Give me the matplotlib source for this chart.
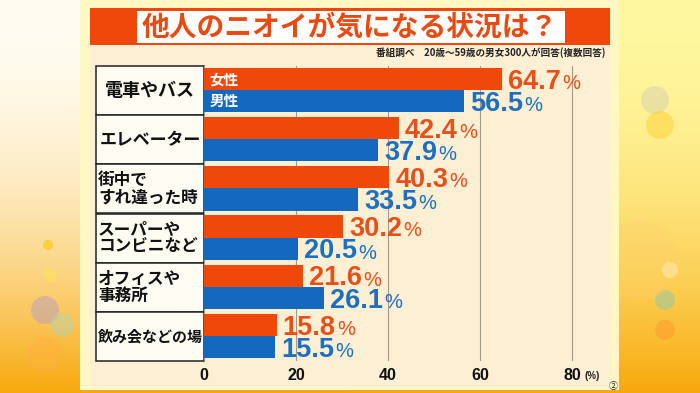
import numpy as np
import matplotlib
matplotlib.use("Agg")
import matplotlib.pyplot as plt
from matplotlib.patches import Rectangle, Circle
from matplotlib.transforms import ScaledTranslation

# ── data ────────────────────────────────────────────────────────────────
categories = ["電車やバス", "エレベーター", "街中で\nすれ違った時",
              "スーパーや\nコンビニなど", "オフィスや\n事務所", "飲み会などの場"]
female = [64.7, 42.4, 40.3, 30.2, 21.6, 15.8]
male   = [56.5, 37.9, 33.5, 20.5, 26.1, 15.5]
xticks = [0, 20, 40, 60, 80]
title = "他人のニオイが気になる状況は？"
subtitle = "番組調べ　20歳～59歳の男女300人が回答(複数回答)"

RED, BLUE = "#f0470a", "#1468be"
RED_TXT, BLUE_TXT = "#e8501a", "#1f6fc0"
JP = ["Noto Sans CJK JP", "DejaVu Sans"]
NUM = "Liberation Sans"

W, H = 700, 393
fig = plt.figure(figsize=(W / 100, H / 100), dpi=100)

def px_axes(x0, y0, x1, y1):
    # pixel box (from top-left) -> figure axes
    return fig.add_axes([x0 / W, 1 - y1 / H, (x1 - x0) / W, (y1 - y0) / H])

# --- background gradient + bokeh ---
bg = fig.add_axes([0, 0, 1, 1])
yy, xx = np.mgrid[0:H, 0:W]
top = np.where(xx[..., None] < 350,
               np.array([255, 253, 242]), np.array([255, 248, 160])).astype(float)
bot = np.array([248, 168, 10], float)
t = ((yy / H) ** 2.0)[..., None]
img = (top * (1 - t) + bot * t) / 255
bg.imshow(img, extent=(0, W, H, 0), aspect="auto")
for (cx, cy, r, c, a) in [(48, 245, 5, "#f7c800", 0.6), (50, 275, 7, "#ffe060", 0.7),
                          (45, 310, 14, "#b9a0c0", 0.5), (62, 325, 12, "#a8d8c0", 0.4),
                          (45, 355, 18, "#ffb040", 0.4), (655, 100, 14, "#d8d0b0", 0.5),
                          (660, 125, 14, "#ffd030", 0.5), (665, 300, 10, "#90c8b0", 0.5),
                          (670, 270, 8, "#fff0c0", 0.6), (665, 330, 10, "#ff9830", 0.5),
                          (640, 260, 40, "#ffd070", 0.25)]:
    bg.add_patch(Circle((cx, cy), r, color=c, alpha=a, lw=0))
bg.add_patch(Rectangle((80, 0), 539, 390, facecolor="#fff8c4", lw=0))
bg.add_patch(Rectangle((90, 45), 520, 342, facecolor="#fcefd3", lw=0))
bg.add_patch(Rectangle((90, 8), 520, 37, facecolor=RED, lw=0))
bg.add_patch(Rectangle((137, 11), 428, 32, facecolor="white", lw=0))
bg.text(350, 28, title, ha="center", va="center", fontsize=20, fontweight="bold",
        color="#e94a10", family=JP)
bg.text(606, 53, subtitle, ha="right", va="center", fontsize=6.9, fontweight="bold",
        color="#222222", family=JP)
bg.text(592, 376, "(%)", ha="center", va="center", fontsize=7, fontweight="bold",
        color="#222222", family=NUM)
bg.text(613, 386, "②", ha="center", va="center", fontsize=6.5, color="#222222", family=JP)
bg.set_xlim(0, W)
bg.set_ylim(H, 0)
bg.axis("off")

# --- category label boxes ---
lab = px_axes(96, 66, 204, 361)
lab.set_xlim(0, 1)
lab.set_ylim(6, 0)
lab.axis("off")
label_style = [(0.5, "center", 13), (0.5, "center", 12.2), (0.02, "left", 12),
               (0.02, "left", 12), (0.02, "left", 12), (0.5, "center", 10.8)]
for i, name in enumerate(categories):
    lab.add_patch(Rectangle((0, i), 1, 1, facecolor="#fffcf3", edgecolor="#222222",
                            lw=1.1, clip_on=False))
    x, ha, fs = label_style[i]
    lab.text(x, i + 0.5, name, ha=ha, va="center", fontsize=fs, fontweight="bold",
             family=JP, linespacing=0.95, color="#111111")

# --- bars ---
ax = px_axes(204, 66, 608, 361)
ax.patch.set_alpha(0)
ax.set_xlim(0, 404 / 4.6)
ax.set_ylim(6, 0)
pos = np.arange(len(categories))
ax.barh(pos + 0.265, female, height=0.45, color=RED, zorder=3)
ax.barh(pos + 0.715, male, height=0.45, color=BLUE, zorder=3)
ax.set_xticks(xticks)
ax.set_xticklabels([str(v) for v in xticks], fontsize=11.5, fontweight="bold",
                   family=NUM, color="#111111")
ax.tick_params(axis="x", length=0, pad=5)
ax.set_yticks([])
ax.xaxis.grid(True, color="#a09a90", lw=0.8, zorder=1)
for s in ax.spines.values():
    s.set_visible(False)

ax.text(1.2, 0.265, "女性", ha="left", va="center", fontsize=10.5, fontweight="bold",
        color="white", family=JP, zorder=4)
ax.text(1.2, 0.715, "男性", ha="left", va="center", fontsize=10.5, fontweight="bold",
        color="white", family=JP, zorder=4)

NUM_FS = 19.5
# baseline sits half a cap height below the bar centre
down = ScaledTranslation(0, -0.716 * NUM_FS / 72 / 2, fig.dpi_scale_trans)

def value_label(x, y, v, color):
    num = ax.text(x + 1.3, y, f"{v:.1f}", ha="left", va="baseline", fontsize=NUM_FS,
                  fontweight="bold", color=color, family=NUM, zorder=4,
                  transform=ax.transData + down)
    ax.annotate("%", xy=(1, 0), xycoords=num, xytext=(1, 0.212 * NUM_FS),
                textcoords="offset points", ha="left", va="baseline", fontsize=14.5,
                color=color, family=NUM, zorder=4)

for i in range(len(categories)):
    value_label(female[i], i + 0.265, female[i], RED_TXT)
    value_label(male[i], i + 0.715, male[i], BLUE_TXT)

fig.savefig("out.png", dpi=100)
